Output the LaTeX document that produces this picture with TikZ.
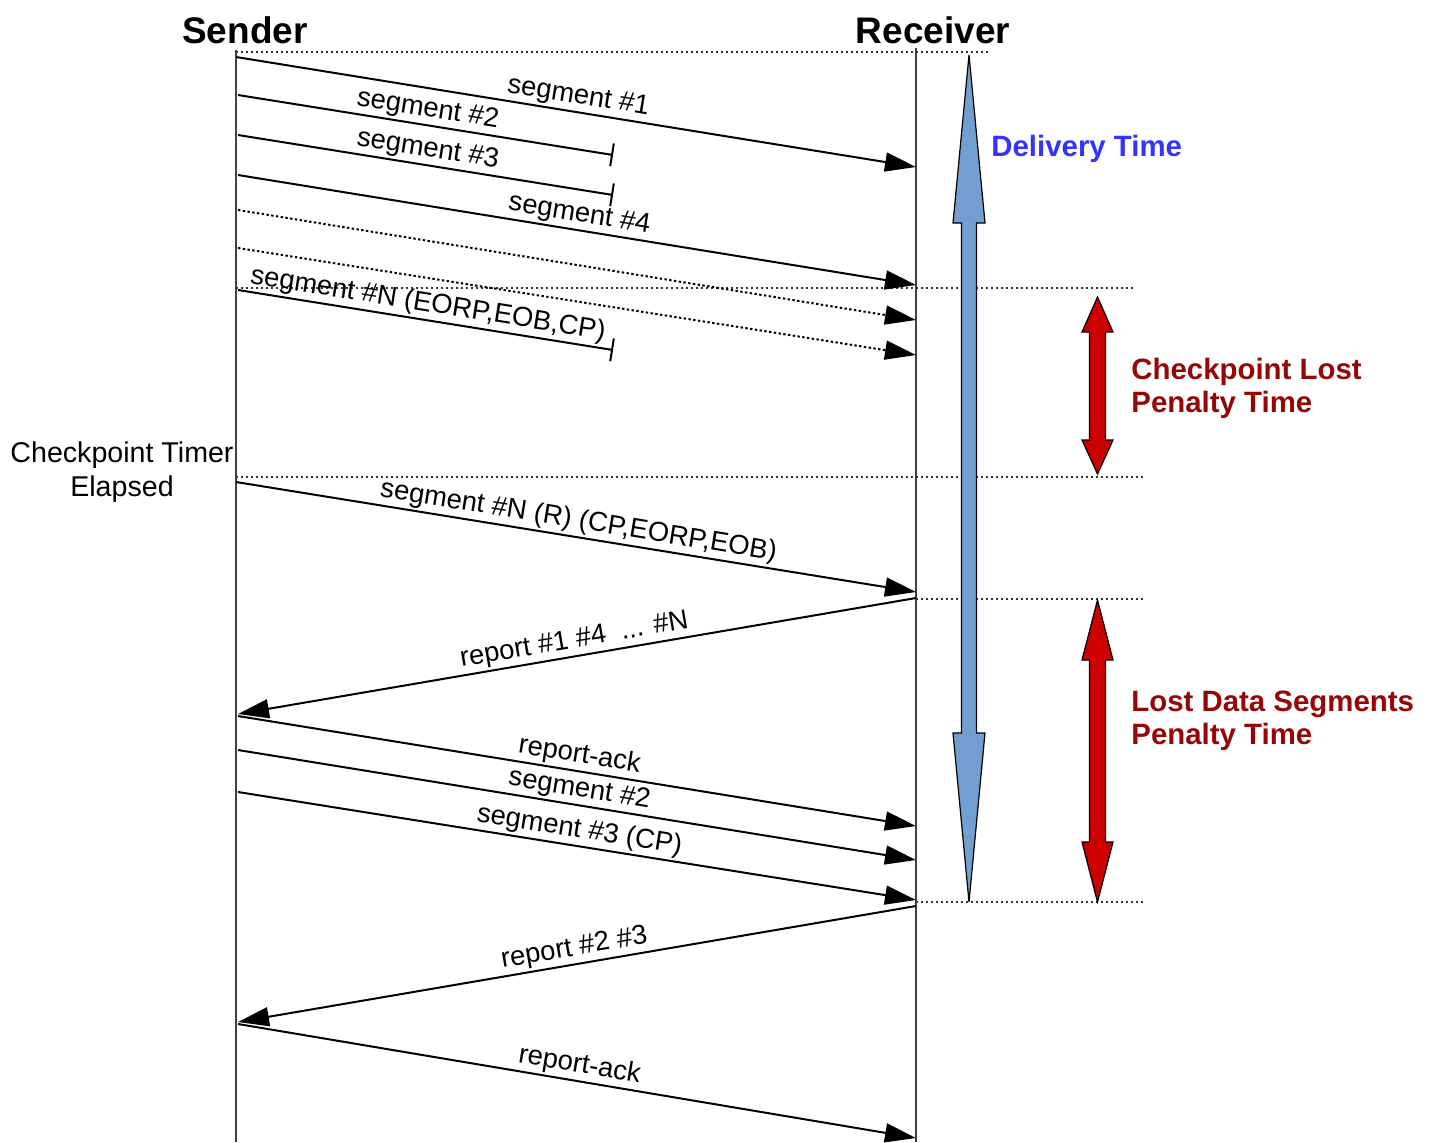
\documentclass[tikz,border=0pt]{standalone}
\usepackage{fontspec}
\setmainfont{Liberation Sans}
\usetikzlibrary{arrows.meta}
\definecolor{dtblue}{RGB}{51,51,255}
\definecolor{ltred}{RGB}{150,6,6}
\definecolor{arblue}{HTML}{729FCF}
\definecolor{arred}{RGB}{204,0,0}
\begin{document}
\begin{tikzpicture}[x=0.5pt,y=-0.5pt,
 life/.style={line width=1pt, black!75},
 msg/.style={line width=1pt, -{Triangle[length=15.5pt,width=9.5pt]}},
 rmsg/.style={line width=1pt, {Triangle[length=15.5pt,width=9.5pt]}-},
 lost/.style={line width=1pt, -{Bar[width=11.5pt,line width=1pt]}},
 dmsg/.style={msg, dash pattern=on 1.2pt off 1.2pt},
 guide/.style={line width=0.8pt, black!80, dash pattern=on 1.2pt off 1.3pt},
 lbl/.style={sloped, above, inner sep=1pt, font=\fontsize{13.7}{16}\selectfont},
 headtxt/.style={font=\fontsize{18.5}{22}\selectfont\bfseries},
 note/.style={font=\fontsize{14.7}{16.5}\selectfont\bfseries, align=left, anchor=west, inner sep=0pt},
 big/.style={draw=black, line width=0.6pt, line join=miter}]

\useasboundingbox (0,0) rectangle (1431,1142);

% headers
\node[headtxt] (sender) at (245,30) {Sender};
\node[headtxt] (receiver) at (933,30) {Receiver};

% lifelines
\coordinate (stop) at (236,50);
\coordinate (sbot) at (236,1142);
\coordinate (rtop) at (916,48);
\coordinate (rbot) at (916,1142);
\draw[life] (stop) -- (sbot);
\draw[life] (rtop) -- (rbot);

% guide lines
\coordinate (g0a) at (236,52);  \coordinate (g0b) at (990,52);
\coordinate (g1a) at (236,288); \coordinate (g1b) at (1135,288);
\coordinate (g2a) at (236,477); \coordinate (g2b) at (1143,477);
\coordinate (g3a) at (916,599); \coordinate (g3b) at (1143,599);
\coordinate (g4a) at (916,902); \coordinate (g4b) at (1143,902);
\draw[guide] (g0a) -- (g0b);
\draw[guide] (g1a) -- (g1b);
\draw[guide] (g2a) -- (g2b);
\draw[guide] (g3a) -- (g3b);
\draw[guide] (g4a) -- (g4b);

% message end points
\coordinate (m1s) at (236,57);  \coordinate (m1e) at (916,167);
\coordinate (m2s) at (238,95);  \coordinate (m2e) at (613,155);
\coordinate (m3s) at (238,135); \coordinate (m3e) at (613,195);
\coordinate (m4s) at (238,175); \coordinate (m4e) at (916,285);
\coordinate (d1s) at (238,210); \coordinate (d1e) at (916,320);
\coordinate (d2s) at (238,248); \coordinate (d2e) at (916,355);
\coordinate (mNs) at (238,290); \coordinate (mNe) at (613,350);
\coordinate (mRs) at (236,482); \coordinate (mRe) at (916,592);
\coordinate (r1s) at (238,714); \coordinate (r1e) at (916,598);
\coordinate (a1s) at (238,716); \coordinate (a1e) at (916,826);
\coordinate (s2s) at (238,750); \coordinate (s2e) at (916,860);
\coordinate (s3s) at (238,792); \coordinate (s3e) at (916,900);
\coordinate (r2s) at (238,1022); \coordinate (r2e) at (916,906);
\coordinate (a2s) at (238,1024); \coordinate (a2e) at (916,1138);

% messages
\draw[msg] (m1s) -- node[lbl] (l1) {segment \#1} (m1e);
\draw[lost] (m2s) -- node[lbl] (l2) {segment \#2} (m2e);
\draw[lost] (m3s) -- node[lbl] (l3) {segment \#3} (m3e);
\draw[msg] (m4s) -- node[lbl] (l4) {segment \#4} (m4e);
\draw[dmsg] (d1s) -- (d1e);
\draw[dmsg] (d2s) -- (d2e);
\draw[lost] (mNs) -- node[lbl] (lN) {segment \#N (EORP,EOB,CP)} (mNe);
\draw[msg] (mRs) -- node[lbl] (lR) {segment \#N (R) (CP,EORP,EOB)} (mRe);
\draw[rmsg] (r1s) -- node[lbl] (lr1) {report \#1 \#4 \ ... \#N} (r1e);
\draw[msg] (a1s) -- node[lbl] (la1) {report-ack} (a1e);
\draw[msg] (s2s) -- node[lbl] (ls2) {segment \#2} (s2e);
\draw[msg] (s3s) -- node[lbl] (ls3) {segment \#3 (CP)} (s3e);
\draw[rmsg] (r2s) -- node[lbl] (lr2) {report \#2 \#3} (r2e);
\draw[msg] (a2s) -- node[lbl] (la2) {report-ack} (a2e);

% side text
\node[font=\fontsize{14.3}{17}\selectfont, align=center, inner sep=0pt] (ctimer) at (122,472) {Checkpoint Timer\\Elapsed};

% big arrows
\draw[big, fill=arblue] (969,55) -- (985,223) -- (976.5,223) -- (976.5,733) -- (985,733) -- (969,902) -- (953,733) -- (961.5,733) -- (961.5,223) -- (953,223) -- cycle;
\draw[big, fill=arred] (1097.5,297) -- (1113,332) -- (1105.5,332) -- (1105.5,440) -- (1113,440) -- (1097.5,474) -- (1082,440) -- (1089.5,440) -- (1089.5,332) -- (1082,332) -- cycle;
\draw[big, fill=arred] (1097.5,600) -- (1113,660) -- (1105.5,660) -- (1105.5,842) -- (1113,842) -- (1097.5,902) -- (1082,842) -- (1089.5,842) -- (1089.5,660) -- (1082,660) -- cycle;

\node[note, text=dtblue] (dtime) at (991,149) {Delivery Time};
\node[note, text=ltred] (cplost) at (1131,388) {Checkpoint Lost\\Penalty Time};
\node[note, text=ltred] (dslost) at (1131,721) {Lost Data Segments\\Penalty Time};
\end{tikzpicture}
\end{document}
